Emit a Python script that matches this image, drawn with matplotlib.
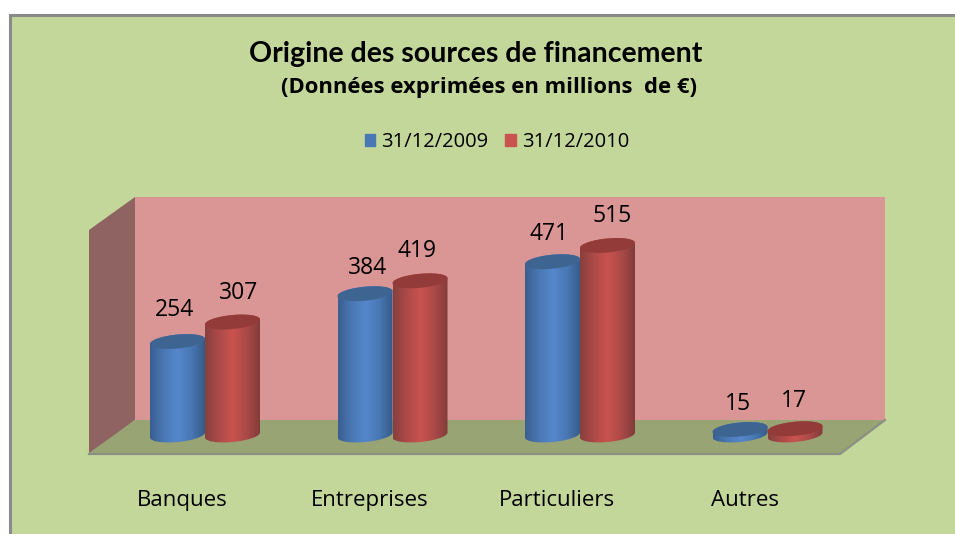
import numpy as np
import matplotlib
matplotlib.use("Agg")
import matplotlib.pyplot as plt
from matplotlib.colors import LinearSegmentedColormap
from matplotlib.patches import Patch, Polygon, Rectangle
from matplotlib.transforms import ScaledTranslation

categories = ["Banques", "Entreprises", "Particuliers", "Autres"]
series_names = ["31/12/2009", "31/12/2010"]
values_2009 = [254, 384, 471, 15]
values_2010 = [307, 419, 515, 17]

W, H = 955, 534
BG = "#C4D79B"
WALL_BACK = "#DA9694"
WALL_SIDE = "#8E6361"
FLOOR = "#98A474"
EDGE = "#8C8F84"
BLUE = ["#3A5F90", "#4A78B4", "#5487CC", "#4A78B4", "#355A88"]
RED = ["#87403E", "#AC4A48", "#C9534F", "#AC4A48", "#823C3A"]
BLUE_TOP = "#3E6492"
RED_TOP = "#933B39"

plt.rcParams["font.family"] = ["Open Sans", "DejaVu Sans"]

fig = plt.figure(figsize=(W / 100, H / 100), dpi=100, facecolor="white")

# background layer in pixels: frame and the 3d box
bg = fig.add_axes([0, 0, 1, 1])
bg.set_xlim(0, W)
bg.set_ylim(H, 0)
bg.axis("off")
bg.add_patch(Rectangle((10, 15), W, H, facecolor=BG, edgecolor="#8A8A8A", lw=2.2))
bg.add_patch(Polygon([(135, 197), (885, 197), (885, 420), (135, 420)], color=WALL_BACK, lw=0))
bg.add_patch(Polygon([(89, 230), (135, 197), (135, 420), (89, 455)], color=WALL_SIDE, lw=0))
bg.add_patch(Polygon([(135, 420), (885, 420), (840, 453), (89, 453)], color=FLOOR, lw=0))
bg.plot([89, 840, 885], [454, 454, 420], color=EDGE, lw=1.6)

# chart layer: value 0 sits at y=435px, 0.368 px per unit
PX = 0.368
x0, step = 205, 187.5
left, right, top, bottom = 89, 885, 197, 455
ax = fig.add_axes([left / W, 1 - bottom / H, (right - left) / W, (bottom - top) / H])
ax.patch.set_alpha(0)
xlim = ((left - x0) / step, (right - x0) / step)
ylim = (-(bottom - 435) / PX, (435 - top) / PX)

half_w = 27.5 / step
ry = 7 / PX
tilt = 2.5 / PX


def arc(cx, y, t):
    return np.column_stack([cx + half_w * np.cos(t), y + ry * np.sin(t) + tilt * np.cos(t)])


def cylinder(cx, value, colors, top_color, z):
    cmap = LinearSegmentedColormap.from_list("c", colors)
    body = np.vstack([arc(cx, 0, np.linspace(np.pi, 2 * np.pi, 50)),
                      arc(cx, value, np.linspace(0, np.pi, 50))])
    clip = Polygon(body, transform=ax.transData, facecolor="none", edgecolor="none")
    ax.add_patch(clip)
    im = ax.imshow(np.linspace(0, 1, 128)[None, :], cmap=cmap, aspect="auto", zorder=z,
                   extent=(cx - half_w, cx + half_w, -ry - tilt, value + ry + tilt))
    im.set_clip_path(clip)
    cap = arc(cx, value, np.linspace(0, 2 * np.pi, 100))
    ax.add_patch(Polygon(cap, facecolor=top_color, edgecolor="none", zorder=z + 0.5))


for i in range(len(categories)):
    cylinder(i - half_w, values_2009[i], BLUE, BLUE_TOP, 2 + i)
    cylinder(i + half_w, values_2010[i], RED, RED_TOP, 2.6 + i)

ax.set_xlim(xlim)
ax.set_ylim(ylim)
ax.axis("on")
for s in ax.spines.values():
    s.set_visible(False)
ax.set_yticks([])
ax.set_xticks(range(len(categories)))
ax.set_xticklabels(categories, fontsize=16)
ax.tick_params(axis="x", length=0, pad=25)
shift = ScaledTranslation(-23 / 100, 0, fig.dpi_scale_trans)
for lab in ax.get_xticklabels():
    lab.set_transform(lab.get_transform() + shift)

# data labels, nudged by hand like the original
nudge_2009 = [(-3, 32), (2, 26), (-4, 28), (-2, 25)]
nudge_2010 = [(6, 29), (-3, 30), (5, 29), (-1, 28)]
for i in range(len(categories)):
    ax.annotate(str(values_2009[i]), (i - half_w, values_2009[i]), xytext=nudge_2009[i],
                textcoords="offset pixels", ha="center", va="center", fontsize=16.5, zorder=20)
    ax.annotate(str(values_2010[i]), (i + half_w, values_2010[i]), xytext=nudge_2010[i],
                textcoords="offset pixels", ha="center", va="center", fontsize=16.5, zorder=20)

fig.text(476 / W, 1 - 54 / H, "Origine des sources de financement", ha="center", va="center",
         fontsize=20.5, fontweight="bold", family=["Lato", "DejaVu Sans"])
fig.text(489 / W, 1 - 88 / H, "(Données exprimées en millions  de €)", ha="center", va="center",
         fontsize=15.8, fontweight="bold")

handles = [Patch(color=BLUE[1]), Patch(color=RED[2])]
fig.legend(handles, series_names, ncols=2, loc="center", bbox_to_anchor=(497 / W, 1 - 142 / H),
           frameon=False, fontsize=14.5, handlelength=0.5, handleheight=0.5,
           handletextpad=0.3, columnspacing=0.85)

fig.savefig("out.png", dpi=100)
